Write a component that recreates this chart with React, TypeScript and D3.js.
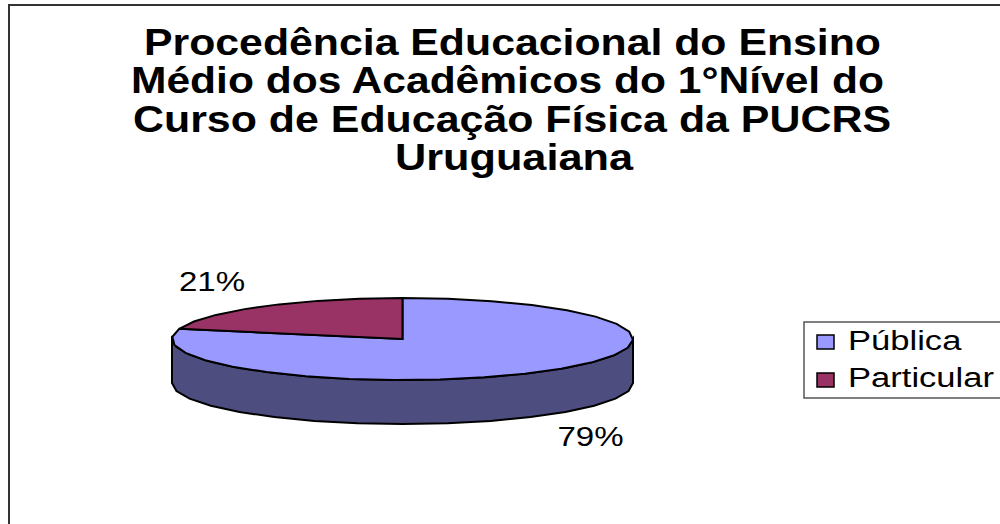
import * as d3 from "d3";

const titleLines = [
  "Procedência Educacional do Ensino",
  "Médio dos Acadêmicos do 1°Nível do",
  "Curso de Educação Física da PUCRS",
  "Uruguaiana",
];
const categories = ["Pública", "Particular"];
const values = [79, 21];
const colors = ["#9999ff", "#993366"];
const sideColor = "#4d4d80";

const font = "'Liberation Sans', Arial, sans-serif";
const cy = 339;
const depth = 44;
const x = d3.scaleLinear().domain([-1, 1]).range([172, 633]);
const y = d3.scaleLinear().domain([-1, 1]).range([cy - 41, cy + 41]);

// Excel's 3D pie edge is a coarse polygon, so sample it coarsely too
const STEP = Math.PI / 16;
const rim = (a0: number, a1: number) => {
  const n = Math.max(1, Math.round((a1 - a0) / STEP));
  return d3.range(n + 1).map((i) => a0 + ((a1 - a0) * i) / n);
};
const pt = (a: number, dy = 0): [number, number] => [x(Math.sin(a)), y(-Math.cos(a)) + dy];
const line = d3.line();

const slices = d3.pie<number>().sort(null)(values);

const sidePath = () => {
  const front = rim(Math.PI / 2, (3 * Math.PI) / 2);
  return line([...front.map((a) => pt(a)), ...front.slice().reverse().map((a) => pt(a, depth))])! + "Z";
};
const slicePath = (s: d3.PieArcDatum<number>) =>
  line([[x(0), y(0)], ...rim(s.startAngle, s.endAngle).map((a) => pt(a))])! + "Z";

// the source image is stretched sideways, so the text has to be too
const wide = (px: number, sx: number) => `translate(${px},0) scale(${sx},1)`;
const titleCenters = [512.5, 507.5, 512, 514];
const titleWidths = [737, 753, 758, 238];

export default function App() {
  return (
    <svg
      width={1000}
      height={524}
      style={{ position: "absolute", left: 0, top: 0, background: "#fff" }}
      fontFamily={font}
    >
      <path d="M9,524V5H1000" fill="none" stroke="#333" strokeWidth={2} />
      <g fontSize={36} fontWeight="bold" textAnchor="middle" fill="#000">
        {titleLines.map((t, i) => (
          <text
            key={i}
            x={titleCenters[i]}
            y={55 + i * 38.4}
            textLength={titleWidths[i]}
            lengthAdjust="spacingAndGlyphs"
          >
            {t}
          </text>
        ))}
      </g>
      <path d={sidePath()} fill={sideColor} stroke="#000" strokeWidth={2} />
      {slices.map((s, i) => (
        <path key={i} d={slicePath(s)} fill={colors[i]} stroke="#000" strokeWidth={2} />
      ))}
      <g fontSize={28} fill="#000" textAnchor="middle">
        <text transform={wide(212, 1.18)} y={291}>{values[1]}%</text>
        <text transform={wide(590.5, 1.18)} y={446}>{values[0]}%</text>
      </g>
      <rect x={804} y={322} width={210} height={76} fill="#fff" stroke="#555" strokeWidth={1.5} />
      {categories.map((c, i) => (
        <g key={c}>
          <rect x={817} y={335 + i * 38} width={17} height={14} fill={colors[i]} stroke="#000" strokeWidth={1.5} />
          <text transform={wide(848, 1.235)} y={350 + i * 37.5} fontSize={28} fill="#000">
            {c}
          </text>
        </g>
      ))}
    </svg>
  );
}
